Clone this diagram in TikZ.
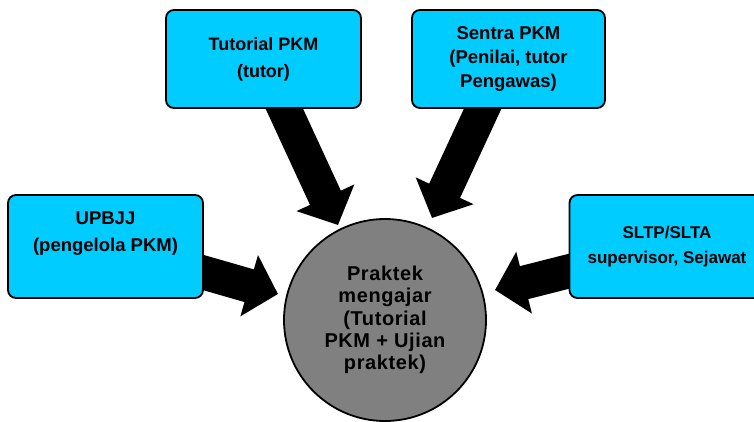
\documentclass[tikz,border=0pt]{standalone}
\usepackage{fontspec}
\setmainfont{Liberation Sans}
\usetikzlibrary{arrows.meta}
\definecolor{boxcyan}{RGB}{0,204,255}
\definecolor{hubgray}{RGB}{128,128,128}
\begin{document}
\begin{tikzpicture}[x=1pt,y=-1pt,
  srcbox/.style={draw=black, line width=1.8pt, fill=boxcyan, rounded corners=8pt,
    minimum width=195pt, minimum height=98pt, inner sep=0pt, align=center,
    font=\fontsize{18}{26}\selectfont\bfseries},
  boxtext/.style={inner sep=0pt, align=center, font=\fontsize{18.5}{27}\selectfont\bfseries},
  hub/.style={circle, draw=black, line width=1.8pt, fill=hubgray, minimum size=202pt,
    inner sep=0pt, align=center,
    font=\fontsize{20}{22.3}\selectfont\bfseries\addfontfeatures{LetterSpace=3}},
  blockarrow/.style={draw=black, line width=34pt,
    -{Triangle[length=30pt,width=62pt]}}]
\useasboundingbox (0,0) rectangle (754,421);
\clip (0,0) rectangle (754,421);

% anchors of arrows
\coordinate (tutA) at (277.7,94.4);
\coordinate (tutB) at (338,225);
\coordinate (senA) at (489.3,94.4);
\coordinate (senB) at (432,218);
\coordinate (upbA) at (187.6,268);
\coordinate (upbB) at (278,294);
\coordinate (sltA) at (584.5,267.3);
\coordinate (sltB) at (495,290);

\draw[blockarrow] (tutA) -- (tutB);
\draw[blockarrow] (senA) -- (senB);
\draw[blockarrow] (upbA) -- (upbB);
\draw[blockarrow] (sltA) -- (sltB);

\node[srcbox, font=\fontsize{18}{27}\selectfont\bfseries] (tut) at (263.5,59) {Tutorial PKM\\(tutor)};
\node[srcbox, minimum width=193pt, font=\fontsize{18.5}{24}\selectfont\bfseries] (sen) at (508.5,59) {Sentra PKM\\(Penilai, tutor\\Pengawas)};
\node[srcbox, minimum height=103pt] (upb) at (105.5,246.5) {};
\node[boxtext] (upbt) at (105.5,234) {UPBJJ\\(pengelola PKM)};
\node[srcbox, minimum height=103pt, font=\fontsize{17}{25}\selectfont\bfseries] (slt) at (667,246.5) {SLTP/SLTA\\supervisor, Sejawat};

\node[hub] (hubc) at (385,320) {Praktek\\mengajar\\(Tutorial\\PKM + Ujian\\praktek)};
\end{tikzpicture}
\end{document}
